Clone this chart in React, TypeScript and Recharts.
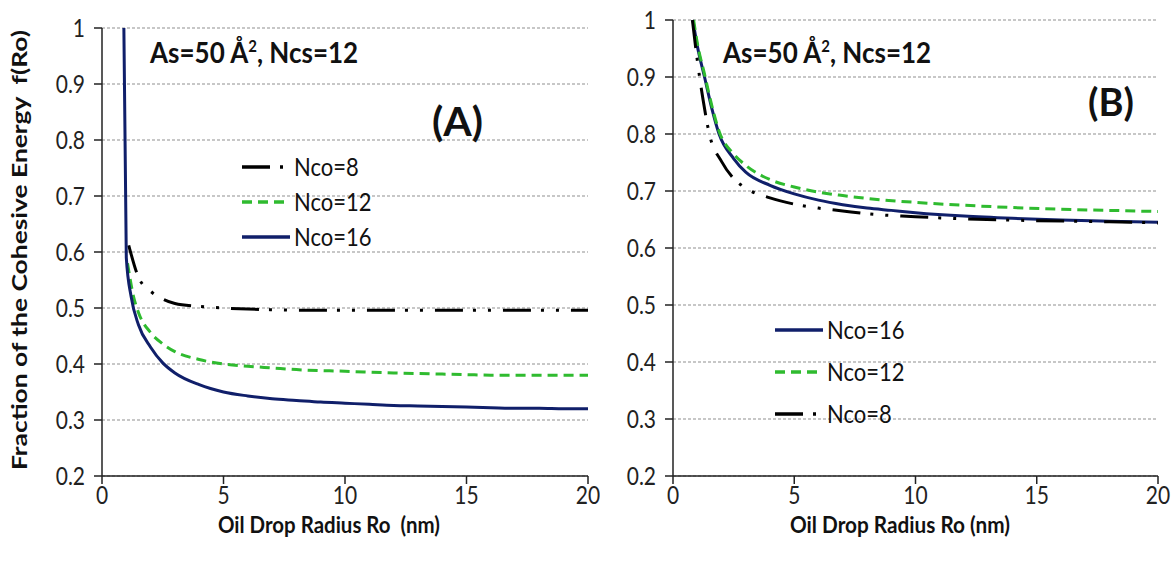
import { CartesianGrid, Line, LineChart, XAxis, YAxis } from "recharts";

// panel (A)
const a16X = [0.9, 1.0, 1.2, 1.5, 2, 2.5, 3, 4, 5, 6, 7, 8, 9, 10, 11, 12, 13, 14, 15, 16, 17, 18, 19, 20];
const a16Y = [1.0, 0.59, 0.52, 0.47, 0.43, 0.402, 0.384, 0.363, 0.35, 0.343, 0.338, 0.335, 0.332, 0.33, 0.328, 0.326, 0.325, 0.324, 0.323, 0.322, 0.321, 0.321, 0.32, 0.32];
const a12X = [1.05, 1.3, 1.5, 2, 2.5, 3, 4, 5, 6, 7, 8, 10, 12, 14, 15, 16, 18, 20];
const a12Y = [0.58, 0.52, 0.492, 0.456, 0.436, 0.422, 0.408, 0.4, 0.396, 0.393, 0.39, 0.387, 0.384, 0.382, 0.381, 0.38, 0.38, 0.38];
const a8X = [1.1, 1.5, 2, 2.5, 3, 4, 5, 6, 7, 8, 10, 12, 14, 16, 18, 20];
const a8Y = [0.612, 0.555, 0.53, 0.516, 0.508, 0.503, 0.5, 0.498, 0.497, 0.496, 0.496, 0.496, 0.496, 0.496, 0.496, 0.496];

// panel (B)
const b16X = [0.82, 1.0, 1.3, 1.6, 1.9, 2.5, 3, 4, 5, 6, 7, 8, 9, 10, 12, 14, 16, 18, 20];
const b16Y = [1.0, 0.955, 0.9, 0.845, 0.8, 0.757, 0.733, 0.71, 0.695, 0.684, 0.676, 0.67, 0.666, 0.662, 0.656, 0.652, 0.649, 0.647, 0.645];
const b12X = [0.85, 1.0, 1.3, 1.6, 1.9, 2.5, 3, 4, 5, 6, 7, 8, 10, 12, 14, 16, 18, 20];
const b12Y = [1.0, 0.96, 0.905, 0.85, 0.805, 0.765, 0.745, 0.72, 0.707, 0.698, 0.692, 0.687, 0.68, 0.675, 0.671, 0.668, 0.666, 0.664];
const b8X = [0.8, 1.0, 1.24, 1.5, 2, 2.5, 3, 4, 5, 6, 7, 8, 10, 12, 15, 18, 20];
const b8Y = [1.0, 0.93, 0.86, 0.8, 0.752, 0.722, 0.705, 0.688, 0.677, 0.67, 0.665, 0.66, 0.655, 0.651, 0.648, 0.646, 0.644];

const yTicks = [0.2, 0.3, 0.4, 0.5, 0.6, 0.7, 0.8, 0.9, 1];
const xTicks = [0, 5, 10, 15, 20];

const toRows = (xs: number[], ys: number[]) => xs.map((x, i) => ({ x, y: ys[i] }));

const FONT = "Lato, 'Open Sans', sans-serif";
const styles = {
  n16: { color: "#101f6a", dash: undefined as string | undefined },
  n12: { color: "#2fbb2f", dash: "10 6" },
  n8: { color: "#000000", dash: "28 10 3 12 3 12" },
};

type SeriesDef = { key: keyof typeof styles; name: string; data: { x: number; y: number }[] };

const seriesA: SeriesDef[] = [
  { key: "n8", name: "Nco=8", data: toRows(a8X, a8Y) },
  { key: "n12", name: "Nco=12", data: toRows(a12X, a12Y) },
  { key: "n16", name: "Nco=16", data: toRows(a16X, a16Y) },
];
const seriesB: SeriesDef[] = [
  { key: "n16", name: "Nco=16", data: toRows(b16X, b16Y) },
  { key: "n12", name: "Nco=12", data: toRows(b12X, b12Y) },
  { key: "n8", name: "Nco=8", data: toRows(b8X, b8Y) },
];

// tick text, a bit taller than wide like the source figure
function TallTick(props: any) {
  const { x, y, payload, axis } = props;
  const v = payload.value as number;
  const label = axis === "y" ? (v === 1 ? "1" : v.toFixed(1)) : String(v);
  return (
    <text
      transform={`translate(${x} ${y}) scale(1 1.15)`}
      textAnchor={axis === "y" ? "end" : "middle"}
      dy={axis === "y" ? "0.36em" : "0.72em"}
      fontFamily={FONT}
      fontSize={21}
      fill="#222"
    >
      {label}
    </text>
  );
}

function Panel({ series, width, margin }: { series: SeriesDef[]; width: number; margin: { top: number; right: number; bottom: number; left: number } }) {
  return (
    <LineChart width={width} height={565} margin={margin}>
      <CartesianGrid vertical={false} stroke="#8f8f8f" strokeDasharray="3 2" />
      <XAxis
        dataKey="x"
        type="number"
        domain={[0, 20]}
        ticks={xTicks}
        allowDuplicatedCategory={false}
        height={40}
        tickSize={8}
        tickMargin={3}
        stroke="#222"
        strokeWidth={1.5}
        tick={<TallTick axis="x" />}
      />
      <YAxis
        type="number"
        domain={[0.2, 1]}
        ticks={yTicks}
        width={55}
        tickSize={8}
        tickMargin={9}
        stroke="#222"
        strokeWidth={1.5}
        tick={<TallTick axis="y" />}
      />
      {series.map((s) => (
        <Line
          key={s.key}
          data={s.data}
          dataKey="y"
          name={s.name}
          type="monotone"
          stroke={styles[s.key].color}
          strokeWidth={3}
          strokeDasharray={styles[s.key].dash}
          dot={false}
          isAnimationActive={false}
        />
      ))}
    </LineChart>
  );
}

function LegendBox({ series, left, top, gap, lineW }: { series: SeriesDef[]; left: number; top: number; gap: number; lineW: number }) {
  return (
    <div style={{ position: "absolute", left, top }}>
      {series.map((s, i) => (
        <div key={s.key} style={{ position: "absolute", top: i * gap, left: 0, display: "flex", alignItems: "center", whiteSpace: "nowrap" }}>
          <svg width={lineW} height={10} style={{ display: "block" }}>
            <line x1={0} y1={5} x2={lineW} y2={5} stroke={styles[s.key].color} strokeWidth={3.5} strokeDasharray={styles[s.key].dash} />
          </svg>
          <span style={{ fontFamily: FONT, fontSize: 22, color: "#111", marginLeft: 4, lineHeight: "24px", display: "inline-block", transform: "scaleY(1.15)" }}>{s.name}</span>
        </div>
      ))}
    </div>
  );
}

const txt = (extra: React.CSSProperties): React.CSSProperties => ({
  position: "absolute",
  fontFamily: FONT,
  color: "#111",
  whiteSpace: "nowrap",
  ...extra,
});

export default function App() {
  return (
    <div style={{ position: "absolute", left: 0, top: 0, width: 1173, height: 565, background: "#fff", overflow: "hidden" }}>
      <div style={{ position: "absolute", left: 0, top: 0 }}>
        <Panel series={seriesA} width={600} margin={{ top: 28, right: 12, bottom: 49, left: 47 }} />
      </div>
      <div style={{ position: "absolute", left: 600, top: 0 }}>
        <Panel series={seriesB} width={573} margin={{ top: 20, right: 15, bottom: 49, left: 18 }} />
      </div>

      <svg width={1173} height={565} style={{ position: "absolute", left: 0, top: 0, pointerEvents: "none" }}>
        <text
          x={0}
          y={0}
          transform="translate(19 250) rotate(-90)"
          textAnchor="middle"
          dominantBaseline="central"
          fontFamily={FONT}
          fontWeight={700}
          fontSize={20}
          fill="#111"
          textLength={440}
          lengthAdjust="spacingAndGlyphs"
        >
          Fraction of the Cohesive Energy{"\u00a0\u00a0"}f(Ro)
        </text>
        <text x={329} y={0} transform="translate(0 533) scale(1 1.1)" textAnchor="middle" fontFamily={FONT} fontWeight={700} fontSize={21} fill="#111" textLength={222} lengthAdjust="spacingAndGlyphs">
          Oil Drop Radius Ro{"\u00a0\u00a0"}(nm)
        </text>
        <text x={900} y={0} transform="translate(0 533) scale(1 1.1)" textAnchor="middle" fontFamily={FONT} fontWeight={700} fontSize={21} fill="#111" textLength={220} lengthAdjust="spacingAndGlyphs">
          Oil Drop Radius Ro (nm)
        </text>
      </svg>

      <div style={txt({ left: 150, top: 36, fontSize: 26, fontWeight: 700, transform: "scaleY(1.12)" })}>
        As=50 Å<sup style={{ fontSize: 15 }}>2</sup>, Ncs=12
      </div>
      <div style={txt({ left: 723, top: 36, fontSize: 26, fontWeight: 700, transform: "scaleY(1.12)" })}>
        As=50 Å<sup style={{ fontSize: 15 }}>2</sup>, Ncs=12
      </div>
      <div style={txt({ left: 432, top: 96, fontSize: 41, fontWeight: 700 })}>(A)</div>
      <div style={txt({ left: 1088, top: 78, fontSize: 38, fontWeight: 700 })}>(B)</div>

      <LegendBox series={seriesA} left={242} top={155} gap={35} lineW={48} />
      <LegendBox series={seriesB} left={775} top={318} gap={42} lineW={48} />
    </div>
  );
}
